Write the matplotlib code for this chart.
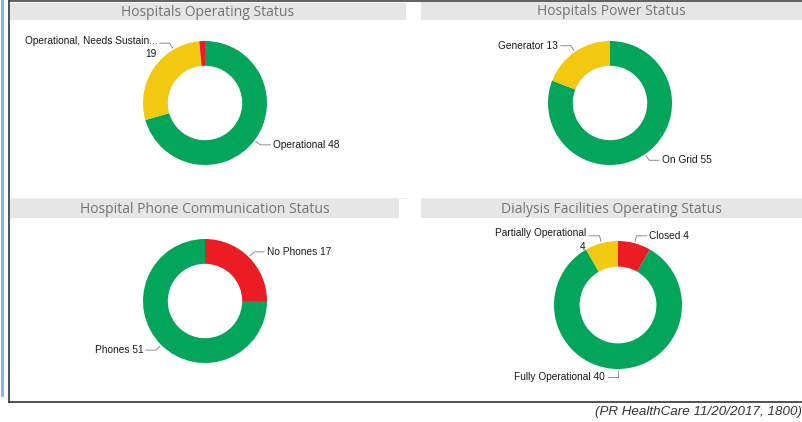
import numpy as np
import matplotlib.pyplot as plt
from matplotlib.lines import Line2D

# data
titles = ["Hospitals Operating Status", "Hospitals Power Status",
          "Hospital Phone Communication Status", "Dialysis Facilities Operating Status"]
op_labels = ["Operational", "Operational, Needs Sustain...\n", ""]
op_values = [48, 19, 1]
pw_labels = ["On Grid", "Generator"]
pw_values = [55, 13]
ph_labels = ["No Phones", "Phones"]
ph_values = [17, 51]
dy_labels = ["Closed", "Fully Operational", "Partially Operational\n"]
dy_values = [4, 40, 4]

GREEN = "#03A55A"
YELLOW = "#F2C811"
RED = "#EC1C24"
op_colors = [GREEN, YELLOW, RED]
pw_colors = [GREEN, YELLOW]
ph_colors = [RED, GREEN]
dy_colors = [RED, GREEN, YELLOW]

W, H = 802, 422
fig = plt.figure(figsize=(W / 100, H / 100), dpi=100)
fig.patch.set_facecolor("white")

LBL = dict(fontsize=7.3, family="Liberation Sans", color="#1A1A1A")


def px_axes(x0, y0, w, h):
    # pixel box (top-left origin) -> figure axes
    return fig.add_axes([x0 / W, 1 - (y0 + h) / H, w / W, h / H])


def title_bar(x0, y0, w, h, text):
    ax = px_axes(x0, y0, w, h)
    ax.set_facecolor("#E6E6E6")
    ax.set_xticks([])
    ax.set_yticks([])
    for s in ax.spines.values():
        s.set_visible(False)
    ax.text(0.5, 0.45, text, ha="center", va="center", fontsize=10,
            color="#737373", family="Open Sans", transform=ax.transAxes)


def donut(cx, cy, r, values, colors, labels, shift=None):
    shift = shift or {}
    ax = px_axes(cx - 2 * r, cy - 2 * r, 4 * r, 4 * r)
    wedges, _ = ax.pie(values, colors=colors, startangle=90, counterclock=False,
                       radius=1, wedgeprops=dict(width=0.4, linewidth=0))
    ax.set_xlim(-2, 2)
    ax.set_ylim(-2, 2)
    ax.set_aspect("equal")
    ax.axis("off")
    for i, (w, lab, v) in enumerate(zip(wedges, labels, values)):
        if not lab:
            continue
        th = np.deg2rad((w.theta1 + w.theta2) / 2 + shift.get(i, 0))
        c, s = np.cos(th), np.sin(th)
        sign = 1 if c > 0.01 else -1
        x1, y1 = 1.03 * c, 1.03 * s
        x2, y2 = 1.12 * c, 1.12 * s
        x3 = x2 + sign * 0.16
        ax.add_line(Line2D([x1, x2, x3], [y1, y2, y2], color="#8C8C8C", lw=0.7))
        ha = "left" if sign > 0 else "right"
        if lab.endswith("\n"):
            ax.text(x3 + sign * 0.04, y2 + 0.04, lab.strip(), ha=ha, va="center", **LBL)
            ax.text(x3 + sign * 0.04 - 0.02, y2 - 0.18, str(v), ha=ha, va="center", **LBL)
        else:
            ax.text(x3 + sign * 0.04, y2, f"{lab} {v}", ha=ha, va="center", **LBL)


title_bar(10, 3, 396, 17, titles[0])
title_bar(421, 2, 381, 18, titles[1])
title_bar(10, 199, 389, 19, titles[2])
title_bar(421, 199, 381, 19, titles[3])

donut(205, 103, 62, op_values, op_colors, op_labels, shift={1: -25})
donut(610, 103, 62, pw_values, pw_colors, pw_labels)
donut(205, 301, 62, ph_values, ph_colors, ph_labels)
donut(618, 305, 64, dy_values, dy_colors, dy_labels)

# frame lines
fig.add_artist(Line2D([9 / W, 9 / W], [1 - 402 / H, 1], color="#333333", lw=1.2))
fig.add_artist(Line2D([9 / W, 1], [1 - 402 / H, 1 - 402 / H], color="#333333", lw=1.2))
fig.add_artist(Line2D([9 / W, 1], [1 - 0.5 / H, 1 - 0.5 / H], color="#444444", lw=1.2))
fig.add_artist(Line2D([1.5 / W, 1.5 / W], [1 - 395 / H, 1], color="#7EB2E6", lw=2))
# thin separators under top panels
fig.add_artist(Line2D([10 / W, 406 / W], [1 - 198 / H, 1 - 198 / H], color="#EEEEEE", lw=0.8))
fig.add_artist(Line2D([421 / W, 1], [1 - 198 / H, 1 - 198 / H], color="#EEEEEE", lw=0.8))

fig.text(802 / W, 1 - 412 / H, "(PR HealthCare 11/20/2017, 1800)", ha="right", va="center",
         fontsize=9.6, style="italic", family="Liberation Sans", color="#333333")

fig.savefig("out.png", dpi=100)
